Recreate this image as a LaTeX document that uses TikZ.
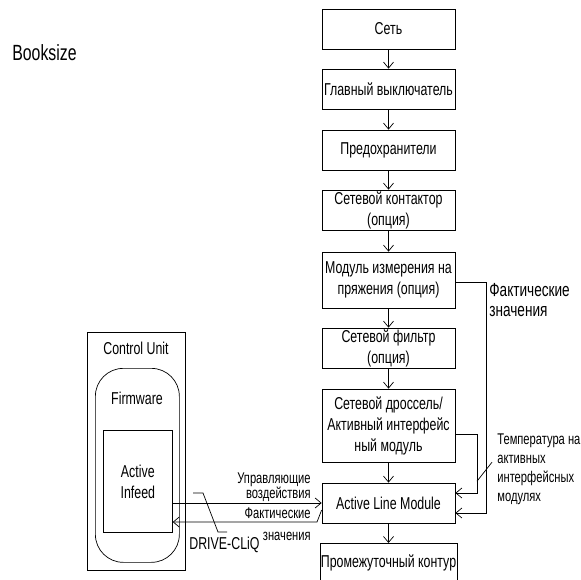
\documentclass[tikz,border=0pt]{standalone}
\usepackage{fontspec}
\setmainfont{Liberation Sans}[FakeStretch=0.72]
\usetikzlibrary{arrows.meta,calc}

\tikzset{
  blk/.style={draw, minimum width=133pt, align=center, inner sep=1pt,
    font=\fontsize{17.2}{21}\selectfont},
  flow/.style={-{Straight Barb[length=6pt,width=10pt]}},
  lbl/.style={inner sep=0pt, font=\fontsize{15.5}{19}\selectfont}
}

\begin{document}
\begin{tikzpicture}[x=1pt,y=-1pt,line width=0.7pt]
\useasboundingbox (0,0) rectangle (581,580);

% Title
\node[anchor=west, inner sep=0pt, font=\fontsize{22}{24}\selectfont] (size) at (12,53) {Booksize};

% Define the boxes of the mains chain
\node[blk, minimum height=40pt] (net) at (388.5,29) {Сеть};
\node[blk, minimum height=40pt] (switch) at (388.5,89) {Главный выключатель};
\node[blk, minimum height=40pt] (fuse) at (388.5,150) {Предохранители};
\node[blk, minimum height=40pt] (contact) at (388.5,210) {Сетевой контактор\\(опция)};
\node[blk, minimum height=56pt] (vsm) at (388.5,280) {Модуль измерения на\\пряжения (опция)};
\node[blk, minimum height=40pt] (filter) at (388.5,348) {Сетевой фильтр\\(опция)};
\node[blk, minimum height=73pt] (choke) at (388.5,425.5) {Сетевой дроссель/\\Активный интерфейс\\ный модуль};
\node[blk, minimum height=40pt] (alm) at (388.5,503) {Active Line Module};
\node[blk, minimum height=40pt, anchor=north] (dclink) at (388.5,543) {Промежуточный контур};

% Draw the chain
\draw[flow] (net) -- (switch);
\draw[flow] (switch) -- (fuse);
\draw[flow] (fuse) -- (contact);
\draw[flow] (contact) -- (vsm);
\draw[flow] (vsm) -- (filter);
\draw[flow] (filter) -- (choke);
\draw[flow] (choke) -- (alm);
\draw[flow] (alm) -- (dclink);

% Feedback on the right
\coordinate (v1) at (486,282);
\coordinate (v2) at (486,513);
\draw[flow] (vsm.east |- v1) -- (v1) -- (v2) -- (alm.east |- v2);
\node[lbl, anchor=west, align=left, font=\fontsize{18.9}{20}\selectfont] (actval) at (489,300) {Фактические\\значения};

\coordinate (t1) at (477,434);
\coordinate (t2) at (477,493);
\draw[flow] (choke.east |- t1) -- (t1) -- (t2) -- (alm.east |- t2);
\node[lbl, anchor=north west, align=left] (temp) at (497,433) {Температура на\\активных\\интерфейсных\\модулях};
\draw ($(t1)!0.8!(t2)$) -- ++(15,-19);

% Control Unit
\node[draw, minimum width=98pt, minimum height=238pt, anchor=north west] (cu) at (87,332) {};
\node[font=\fontsize{17.2}{21}\selectfont] (culbl) at (136,348) {Control Unit};
\node[draw, rounded corners=28pt, minimum width=84pt, minimum height=194pt, anchor=north west] (fw) at (95,368) {};
\node[font=\fontsize{17.2}{21}\selectfont] (fwlbl) at (137,398) {Firmware};
\node[draw, minimum width=69pt, minimum height=102pt, anchor=north west, align=center,
  font=\fontsize{17.2}{21}\selectfont] (infeed) at (103,430) {Active\\Infeed};

% Signals between Active Infeed and Active Line Module
\draw[flow] (infeed.east |- alm.west) -- (alm.west);
\coordinate (k1) at (317,522);
\draw[flow] ([yshift=-7pt]alm.west) -- (k1) -- (infeed.east |- k1);
\node[lbl, anchor=east, align=right, font=\fontsize{15.5}{15}\selectfont] (ctrl) at (311,487.5) {Управляющие\\воздействия};
\node[lbl, anchor=east, align=right, font=\fontsize{15.5}{22}\selectfont] (fdb) at (311,524) {Фактические\\значения};

% DRIVE-CLiQ
\node[anchor=west, inner sep=0pt, font=\fontsize{17.2}{21}\selectfont] (cliq) at (189,545) {DRIVE-CLiQ};
\draw (193,493) -- (203,493) -- (218,532) -- (227,532);
\end{tikzpicture}
\end{document}
